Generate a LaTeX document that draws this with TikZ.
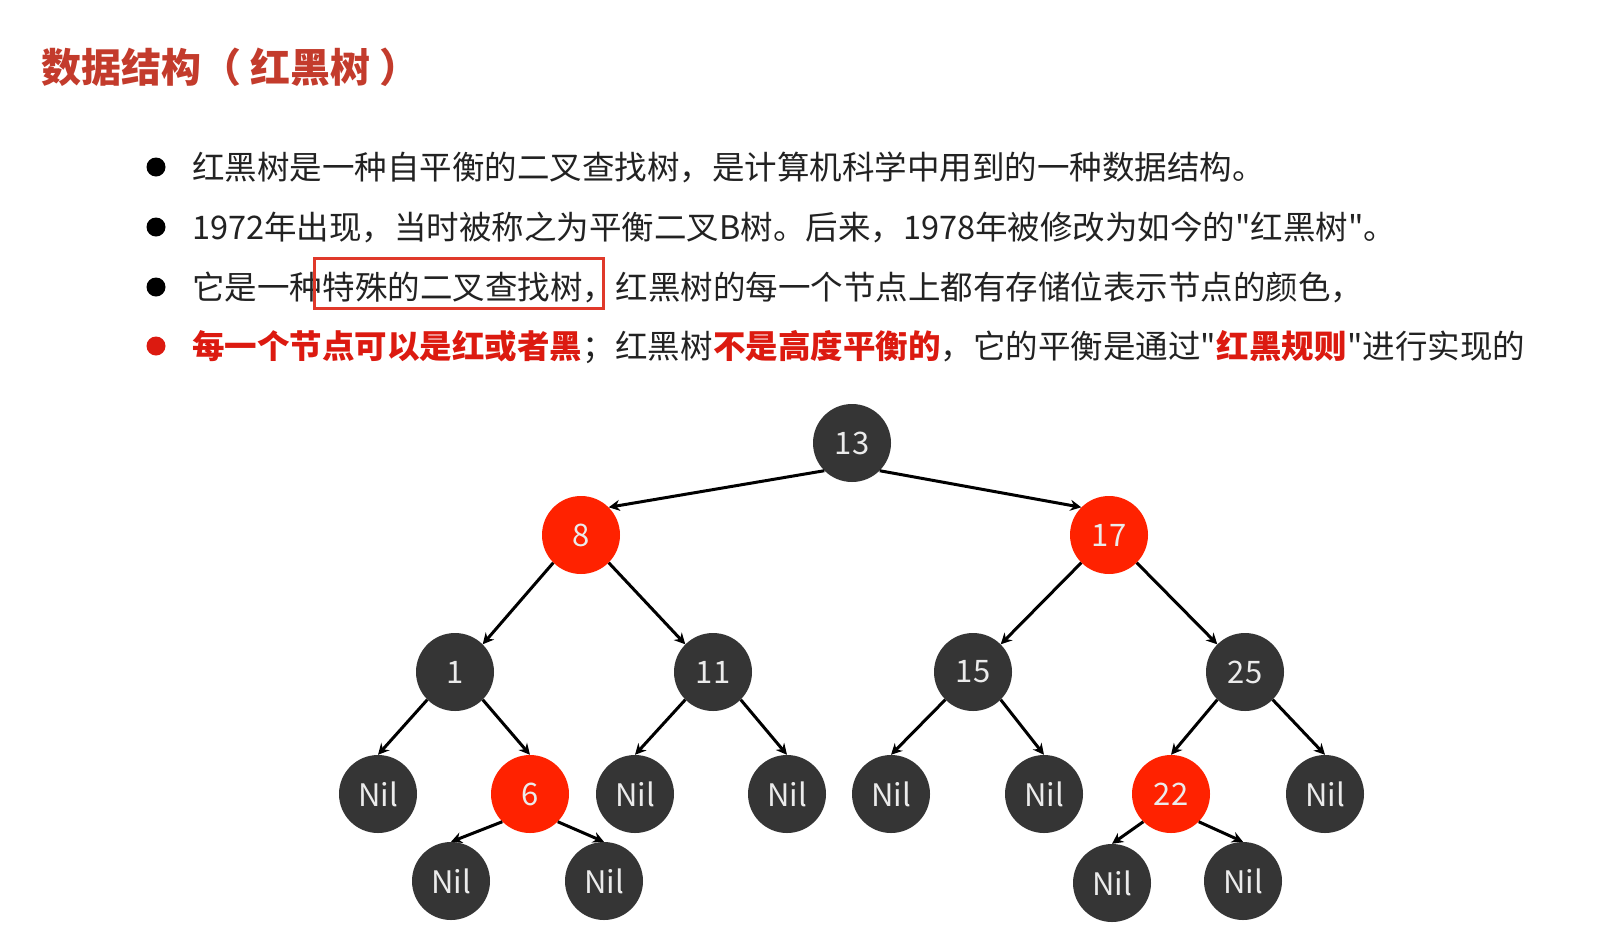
\documentclass[tikz,border=0pt]{standalone}
\usepackage{fontspec}
\setmainfont{Noto Sans CJK SC}[Ligatures=TeXOff]
\usetikzlibrary{arrows.meta, positioning}

\definecolor{titlered}{HTML}{C33B2C}
\definecolor{hotred}{HTML}{DC1A10}
\definecolor{boxred}{HTML}{E0392A}
\definecolor{nodered}{HTML}{FF2200}
\definecolor{nodegray}{HTML}{353535}
\definecolor{bodytext}{HTML}{222222}

\begin{document}
\begin{tikzpicture}[
        x=1pt, y=-1pt,
        >={Stealth[length=11pt, width=11pt]},
        rbnode/.style={circle, minimum size=78pt, inner sep=0pt, text=white!92!black, font=\fontsize{31}{31}\selectfont},
        blknode/.style={rbnode, fill=nodegray},
        rednode/.style={rbnode, fill=nodered},
        dot/.style={circle, fill=black, minimum size=19pt, inner sep=0pt},
        bullet/.style={anchor=west, inner sep=0pt, text=bodytext, font=\fontsize{32.5}{40}\selectfont},
        hot/.style={anchor=base west, inner sep=0pt, text=hotred, font=\fontsize{32.5}{40}\selectfont\bfseries},
        hilite/.style={draw=boxred, line width=2.4pt},
        line/.style={draw, ->, line width=3pt, black}
    ]

        \path[use as bounding box, fill=white] (0,0) rectangle (1605,924);

        % ================= TÍTULO =================
        \node[anchor=west, inner sep=0pt, text=titlered, font=\fontsize{40}{48}\selectfont\bfseries] (title) at (41, 67) {数据结构（ 红黑树 ）};

        % ================= VIÑETAS =================
        \node[dot] (b1) at (156, 167) {};
        \node[dot] (b2) at (156, 227) {};
        \node[dot] (b3) at (156, 287) {};
        \node[dot, fill=hotred] (b4) at (156, 346) {};

        \node[bullet] (l1) at (192, 167) {红黑树是一种自平衡的二叉查找树，是计算机科学中用到的一种数据结构。};
        \node[bullet] (l2) at (192, 227) {1972年出现，当时被称之为平衡二叉B树。后来，1978年被修改为如今的"红黑树"。};

        \node[bullet] (l3a) at (192, 287) {它是一种};
        \node[bullet, anchor=base west] (l3b) at (l3a.base east) {特殊的二叉查找树，};
        \node[bullet, anchor=base west] (l3c) at (l3b.base east) {红黑树的每一个节点上都有存储位表示节点的颜色，};
        % recuadro de resalte
        \draw[hilite] ([xshift=-8pt, yshift=-9pt]l3b.base west) rectangle ([xshift=-12pt, yshift=41pt]l3b.base east);

        \node[hot] (l4a) at ([yshift=-59pt]l3a.base west) {每一个节点可以是红或者黑};
        \node[bullet, anchor=base west] (l4b) at (l4a.base east) {；红黑树};
        \node[hot] (l4c) at (l4b.base east) {不是高度平衡的};
        \node[bullet, anchor=base west] (l4d) at (l4c.base east) {，它的平衡是通过"};
        \node[hot] (l4e) at (l4d.base east) {红黑规则};
        \node[bullet, anchor=base west] (l4f) at (l4e.base east) {"进行实现的};

        % ================= ÁRBOL ROJO-NEGRO =================
        \node[blknode] (n13) at (852, 443) {13};

        \node[rednode] (n8) at (581, 535) {8};
        \node[rednode] (n17) at (1109, 535) {17};

        \node[blknode] (n1) at (455, 672) {1};
        \node[blknode] (n11) at (713, 672) {11};
        \node[blknode] (n15) at (973, 672) {15};
        \node[blknode] (n25) at (1245, 672) {25};

        \node[blknode] (nil1L) at (378, 794) {Nil};
        \node[rednode] (n6) at (530, 794) {6};
        \node[blknode] (nil11L) at (635, 794) {Nil};
        \node[blknode] (nil11R) at (787, 794) {Nil};
        \node[blknode] (nil15L) at (891, 794) {Nil};
        \node[blknode] (nil15R) at (1044, 794) {Nil};
        \node[rednode] (n22) at (1171, 794) {22};
        \node[blknode] (nil25R) at (1325, 794) {Nil};

        \node[blknode] (nil6L) at (451, 881) {Nil};
        \node[blknode] (nil6R) at (604, 881) {Nil};
        \node[blknode] (nil22L) at (1112, 883) {Nil};
        \node[blknode] (nil22R) at (1243, 881) {Nil};

        \path[line] (n13.south west) -- (n8.north east);
        \path[line] (n13.south east) -- (n17.north west);

        \path[line] (n8.south west) -- (n1.north east);
        \path[line] (n8.south east) -- (n11.north west);
        \path[line] (n17.south west) -- (n15.north east);
        \path[line] (n17.south east) -- (n25.north west);

        \path[line] (n1.south west) -- (nil1L.north);
        \path[line] (n1.south east) -- (n6.north);
        \path[line] (n11.south west) -- (nil11L.north);
        \path[line] (n11.south east) -- (nil11R.north);
        \path[line] (n15.south west) -- (nil15L.north);
        \path[line] (n15.south east) -- (nil15R.north);
        \path[line] (n25.south west) -- (n22.north);
        \path[line] (n25.south east) -- (nil25R.north);

        \path[line] (n6.south west) -- (nil6L.north);
        \path[line] (n6.south east) -- (nil6R.north);
        \path[line] (n22.south west) -- (nil22L.north);
        \path[line] (n22.south east) -- (nil22R.north);

    \end{tikzpicture}
\end{document}
